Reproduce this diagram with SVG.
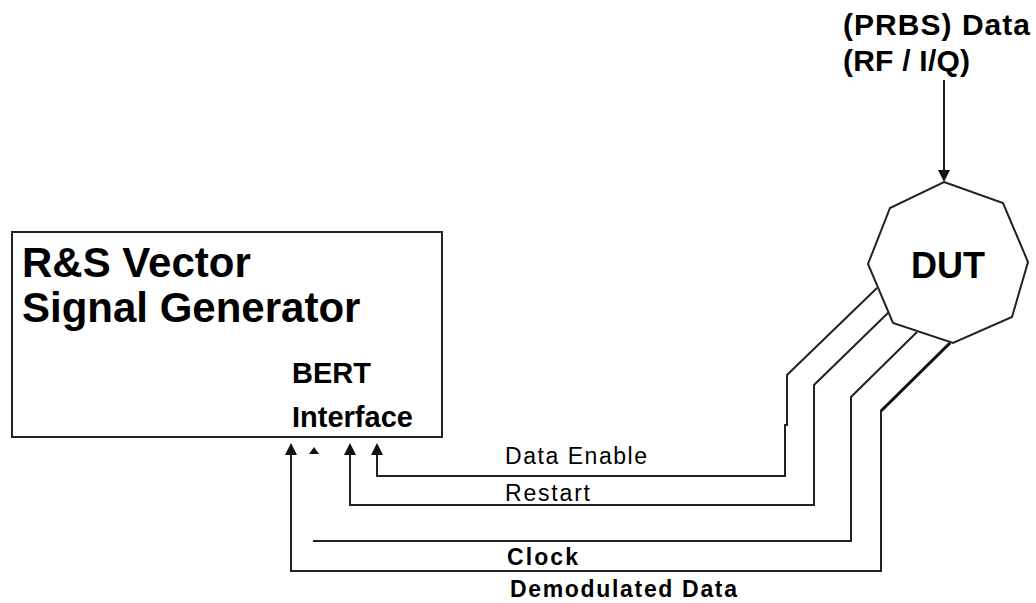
<svg xmlns="http://www.w3.org/2000/svg" width="1036" height="603" viewBox="0 0 1036 603">
<style>
.ln{fill:none;stroke:#222;stroke-width:2}
.shape{fill:#fff;stroke:#222;stroke-width:2}
.t{font-family:"Liberation Sans",Arial,sans-serif;fill:#000}
.b{font-weight:bold}
</style>
<defs>
<marker id="ah" markerUnits="userSpaceOnUse" markerWidth="12" markerHeight="12" refX="0" refY="6" orient="auto">
<path d="M0,0 L12,6 L0,12 z" fill="#111"/>
</marker>
</defs>
<rect width="1036" height="603" fill="#fff"/>
<g id="connectors">
<path class="ln" d="M944,80 L944,170" marker-end="url(#ah)"/>
<path class="ln" d="M877,288 L787,375 L787,425 L785,425 L785,476 L377,476 L377,455" marker-end="url(#ah)"/>
<path class="ln" d="M890,311 L814,385 L814,505 L350,505 L350,455" marker-end="url(#ah)"/>
<path class="ln" d="M917,332 L851,397 L851,541 L313,541"/>
<path class="ln" d="M950,343 L881,411 L881,571 L291,571 L291,455" marker-end="url(#ah)"/>
<path d="M950,343 L881,411" fill="none" stroke="#111" stroke-width="3"/>
<polygon points="314,447 309,454 319,454" fill="#111"/>
<text class="t" x="505" y="464" font-size="23" textLength="142" lengthAdjust="spacing">Data Enable</text>
<text class="t" x="505" y="501" font-size="23" textLength="85" lengthAdjust="spacing">Restart</text>
<text class="t b" x="507" y="565" font-size="23" textLength="71" lengthAdjust="spacing">Clock</text>
<text class="t b" x="510" y="597" font-size="23" textLength="227" lengthAdjust="spacing">Demodulated Data</text>
</g>
<g id="generator">
<rect class="shape" x="12" y="232" width="430" height="205"/>
<text class="t b" x="22" y="277" font-size="42">R&amp;S Vector</text>
<text class="t b" x="22" y="322" font-size="42">Signal Generator</text>
<text class="t b" x="292" y="383" font-size="29">BERT</text>
<text class="t b" x="292" y="427" font-size="29">Interface</text>
</g>
<g id="dut">
<polygon class="shape" points="944,182 1003,203 1028,262 1012,317 953,343 893,323 868,264 890,208"/>
<text class="t b" x="948" y="278" font-size="36" text-anchor="middle">DUT</text>
</g>
<g id="source">
<text class="t b" x="843" y="35" font-size="30" textLength="187" lengthAdjust="spacing">(PRBS) Data</text>
<text class="t b" x="843" y="71" font-size="30" textLength="127" lengthAdjust="spacing">(RF / I/Q)</text>
</g>
</svg>
